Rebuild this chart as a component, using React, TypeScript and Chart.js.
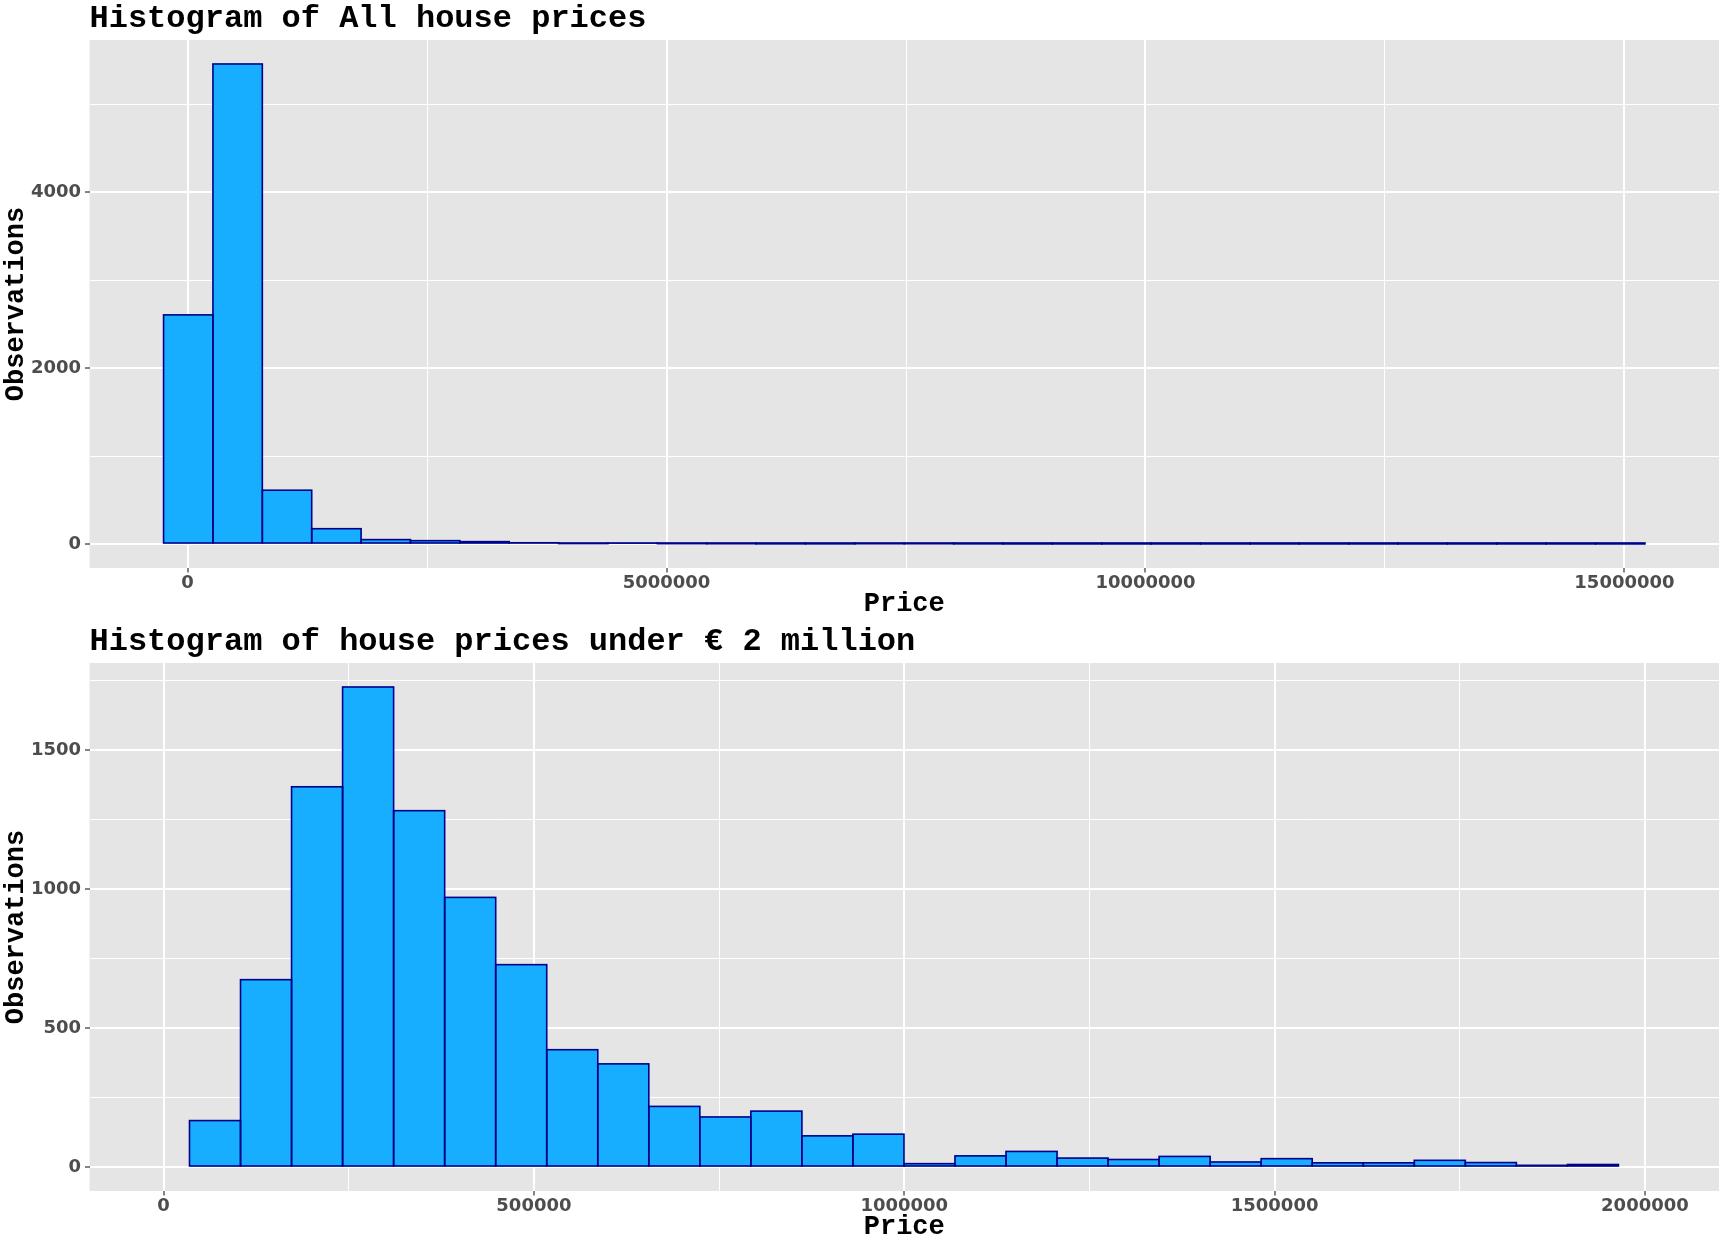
import React, { useEffect, useRef } from 'react';
import Chart from 'chart.js/auto';

// Histogram 1: all house prices (30 bins)
const allTitle = 'Histogram of All house prices';
const allBinCenters: number[] = [
    6750, 522250, 1037750, 1553250, 2068750, 2584250, 3099750, 3615250, 4130750, 4646250,
    5161750, 5677250, 6192750, 6708250, 7223750, 7739250, 8254750, 8770250, 9285750, 9801250,
    10316750, 10832250, 11347750, 11863250, 12378750, 12894250, 13409750, 13925250, 14440750, 14956250,
];
const allCounts: number[] = [
    2607, 5462, 612, 174, 50, 38, 27, 14, 5, 10,
    4, 3, 2, 2, 3, 3, 2, 1, 1, 1,
    1, 1, 1, 1, 1, 1, 1, 1, 1, 1,
];
const allXTicks: number[] = [0, 2500000, 5000000, 7500000, 10000000, 12500000, 15000000];
const allYTicks: number[] = [0, 1000, 2000, 3000, 4000, 5000];

// Histogram 2: prices under 2 million (28 bins kept inside the limits)
const underTitle = 'Histogram of house prices under € 2 million';
const underBinCenters: number[] = [
    69450, 138350, 207250, 276150, 345050, 413950, 482850, 551750, 620650, 689550,
    758450, 827350, 896250, 965150, 1034050, 1102950, 1171850, 1240750, 1309650, 1378550,
    1447450, 1516350, 1585250, 1654150, 1723050, 1791950, 1860850, 1929750,
];
const underCounts: number[] = [
    167, 674, 1368, 1727, 1282, 970, 728, 422, 371, 218,
    180, 201, 112, 118, 12, 40, 56, 32, 27, 38,
    18, 30, 15, 15, 24, 16, 6, 9,
];
const underXTicks: number[] = [0, 250000, 500000, 750000, 1000000, 1250000, 1500000, 1750000, 2000000];
const underYTicks: number[] = [0, 250, 500, 750, 1000, 1250, 1500, 1750];

interface HistogramProps {
    title: string;
    bins: number[];
    counts: number[];
    xTicks: number[];
    yTicks: number[];
    xMajor: number;
    yMajor: number;
    xRange: [number, number];
    yRange: [number, number];
    top: number;
}

const FILL = '#17AEFF';
const OUTLINE = '#00008B';

const Histogram: React.FC<HistogramProps> = ({ title, bins, counts, xTicks, yTicks, xMajor, yMajor, xRange, yRange, top }) => {
    const canvasRef = useRef<HTMLCanvasElement | null>(null);

    useEffect(() => {
        if (!canvasRef.current) return;

        const isMajor = (v: number, step: number) => Math.abs(v % step) < 1e-6;

        const panelBackground = {
            id: 'panelBackground',
            beforeDraw(chart: any) {
                const { ctx, chartArea } = chart;
                ctx.save();
                ctx.fillStyle = '#E5E5E5';
                ctx.fillRect(chartArea.left, chartArea.top, chartArea.right - chartArea.left, chartArea.bottom - chartArea.top);
                ctx.restore();
            },
        };

        // ggplot-style outline round every bin, even the near-empty ones
        const binOutline = {
            id: 'binOutline',
            afterDatasetsDraw(chart: any) {
                const { ctx } = chart;
                const meta = chart.getDatasetMeta(0);
                ctx.save();
                ctx.strokeStyle = OUTLINE;
                ctx.lineWidth = 1.6;
                meta.data.forEach((el: any) => {
                    const { x, y, base, width } = el.getProps(['x', 'y', 'base', 'width'], true);
                    ctx.strokeRect(x - width / 2, y, width, base - y);
                });
                ctx.restore();
            },
        };

        const panelTitle = {
            id: 'panelTitle',
            afterDraw(chart: any) {
                const { ctx, chartArea } = chart;
                ctx.save();
                ctx.font = 'bold 32px "Liberation Mono"';
                ctx.fillStyle = '#000000';
                ctx.textAlign = 'left';
                ctx.textBaseline = 'alphabetic';
                ctx.fillText(title, chartArea.left, 27);
                ctx.restore();
            },
        };

        const tickFont = { family: '"DejaVu Sans"', weight: 'bold' as const, size: 18 };
        const titleFont = { family: '"Liberation Mono"', weight: 'bold' as const, size: 27 };

        const chart = new Chart(canvasRef.current, {
            type: 'bar',
            data: {
                datasets: [{
                    data: bins.map((x, i) => ({ x, y: counts[i] })),
                    backgroundColor: FILL,
                    borderWidth: 0,
                    barPercentage: 1,
                    categoryPercentage: 1,
                }],
            },
            options: {
                animation: false,
                responsive: true,
                maintainAspectRatio: false,
                events: [],
                layout: { padding: { top: 40, right: 9, left: 0, bottom: 0 } },
                plugins: {
                    legend: { display: false },
                    tooltip: { enabled: false },
                },
                scales: {
                    x: {
                        type: 'linear',
                        min: xRange[0],
                        max: xRange[1],
                        offset: false,
                        afterBuildTicks: (scale: any) => {
                            scale.ticks = xTicks.map(value => ({ value }));
                        },
                        afterFit: (scale: any) => {
                            scale.height = 55;
                        },
                        grid: {
                            offset: false,
                            color: '#FFFFFF',
                            lineWidth: (c: any) => (c.tick && isMajor(c.tick.value, xMajor) ? 2 : 1),
                            tickLength: 4.5,
                            tickWidth: 1.2,
                            tickColor: (c: any) => (c.tick && isMajor(c.tick.value, xMajor) ? '#333333' : 'rgba(0,0,0,0)'),
                        },
                        border: { display: false },
                        ticks: {
                            autoSkip: false,
                            maxRotation: 0,
                            padding: 0,
                            color: '#4D4D4D',
                            font: tickFont,
                            callback: (v: any) => (isMajor(Number(v), xMajor) ? String(v) : ''),
                        },
                        title: {
                            display: true,
                            text: 'Price',
                            color: '#000000',
                            font: titleFont,
                            padding: { top: 0, bottom: 3 },
                        },
                    },
                    y: {
                        type: 'linear',
                        min: yRange[0],
                        max: yRange[1],
                        afterBuildTicks: (scale: any) => {
                            scale.ticks = yTicks.map(value => ({ value }));
                        },
                        afterFit: (scale: any) => {
                            scale.width = 89.5;
                        },
                        grid: {
                            color: '#FFFFFF',
                            lineWidth: (c: any) => (c.tick && isMajor(c.tick.value, yMajor) ? 2 : 1),
                            tickLength: 4.5,
                            tickWidth: 1.2,
                            tickColor: (c: any) => (c.tick && isMajor(c.tick.value, yMajor) ? '#333333' : 'rgba(0,0,0,0)'),
                        },
                        border: { display: false },
                        ticks: {
                            autoSkip: false,
                            padding: 4,
                            color: '#4D4D4D',
                            font: tickFont,
                            callback: (v: any) => (isMajor(Number(v), yMajor) ? String(v) : ''),
                        },
                        title: {
                            display: true,
                            text: 'Observations',
                            color: '#000000',
                            font: titleFont,
                            padding: { top: 0, bottom: 0 },
                        },
                    },
                },
            },
            plugins: [panelBackground, binOutline, panelTitle],
        });

        return () => {
            chart.destroy();
        };
    }, [title, bins, counts, xTicks, yTicks, xMajor, yMajor, xRange, yRange]);

    return (
        <div style={{ position: 'absolute', left: 0, top, width: 1728, height: 623 }}>
            <canvas ref={canvasRef} />
        </div>
    );
};

const App: React.FC = () => {
    return (
        <div style={{ position: 'absolute', left: 0, top: 0, width: 1728, height: 1248, background: '#FFFFFF' }}>
            <Histogram
                title={allTitle}
                bins={allBinCenters}
                counts={allCounts}
                xTicks={allXTicks}
                yTicks={allYTicks}
                xMajor={5000000}
                yMajor={2000}
                xRange={[-1024250, 15987250]}
                yRange={[-273.1, 5735.1]}
                top={0}
            />
            <Histogram
                title={underTitle}
                bins={underBinCenters}
                counts={underCounts}
                xTicks={underXTicks}
                yTicks={underYTicks}
                xMajor={500000}
                yMajor={500}
                xRange={[-100000, 2100000]}
                yRange={[-86.35, 1813.35]}
                top={623}
            />
        </div>
    );
};

export default App;
